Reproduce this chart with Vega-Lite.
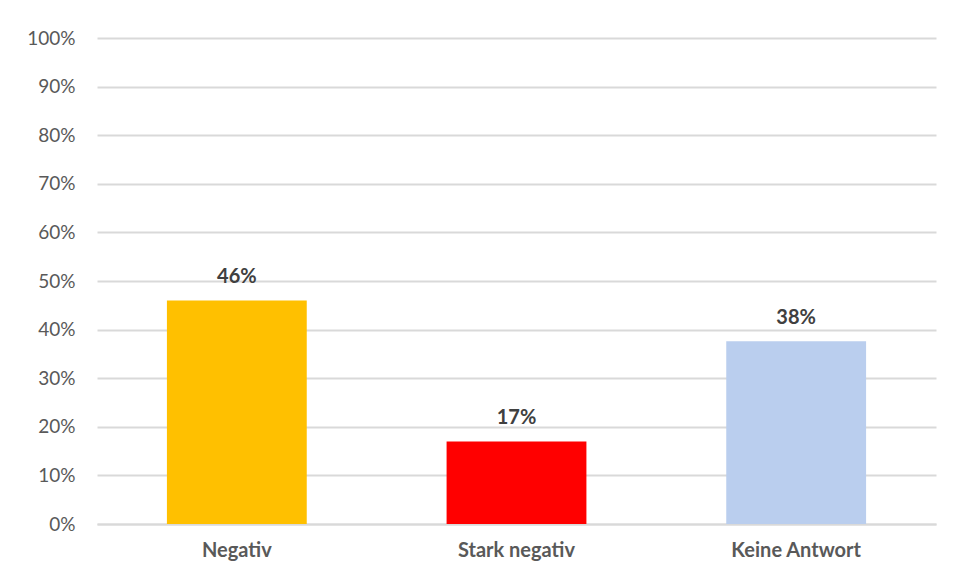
{
  "$schema": "https://vega.github.io/schema/vega-lite/v6.json",
  "autosize": "none",
  "width": 839,
  "height": 486,
  "padding": {"left": 97, "top": 38, "right": 17, "bottom": 55},
  "background": "white",
  "config": {
    "view": {"stroke": null},
    "font": "Lato"
  },
  "data": {
    "values": [
      {"kategorie": "Negativ", "anteil": 0.46},
      {"kategorie": "Stark negativ", "anteil": 0.17},
      {"kategorie": "Keine Antwort", "anteil": 0.376}
    ]
  },
  "encoding": {
    "x": {
      "field": "kategorie",
      "type": "nominal",
      "sort": null,
      "scale": {"paddingInner": 0.5, "paddingOuter": 0.25},
      "axis": {
        "title": null,
        "labelAngle": 0,
        "labelFont": "Lato",
        "labelFontSize": 20,
        "labelFontWeight": "bold",
        "labelColor": "#595959",
        "labelPadding": 16,
        "ticks": false,
        "domainColor": "#D9D9D9",
        "domainWidth": 2
      }
    },
    "y": {
      "field": "anteil",
      "type": "quantitative",
      "scale": {"domain": [0, 1]},
      "axis": {
        "title": null,
        "format": ".0%",
        "values": [0, 0.1, 0.2, 0.3, 0.4, 0.5, 0.6, 0.7, 0.8, 0.9, 1],
        "labelFont": "Lato",
        "labelFontSize": 19,
        "labelFontWeight": "normal",
        "labelColor": "#595959",
        "labelPadding": 22,
        "ticks": false,
        "domain": false,
        "gridColor": "#D9D9D9",
        "gridWidth": 2
      }
    }
  },
  "layer": [
    {
      "mark": {"type": "bar"},
      "encoding": {
        "color": {
          "field": "kategorie",
          "type": "nominal",
          "scale": {
            "domain": ["Negativ", "Stark negativ", "Keine Antwort"],
            "range": ["#FFC000", "#FF0000", "#BACEEE"]
          },
          "legend": null
        }
      }
    },
    {
      "mark": {"type": "text", "baseline": "bottom", "dy": -13, "fontSize": 20, "fontWeight": "bold", "color": "#404040", "font": "Lato"},
      "encoding": {
        "text": {"field": "anteil", "type": "quantitative", "format": ".0%"}
      }
    }
  ]
}
